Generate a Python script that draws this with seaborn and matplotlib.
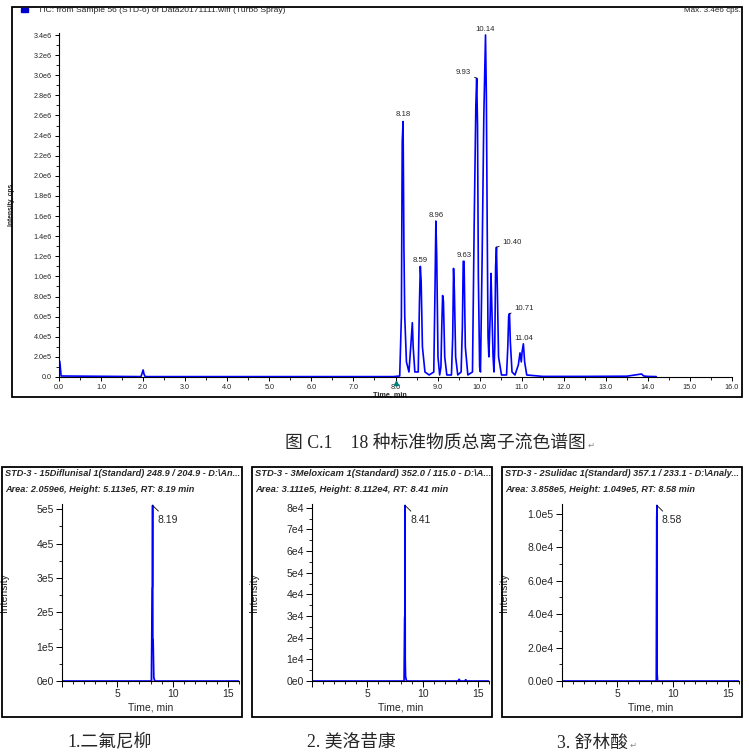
import numpy as np
import pandas as pd
import seaborn as sns
import matplotlib.pyplot as plt
from matplotlib.patches import Rectangle
from matplotlib.ticker import MultipleLocator, FuncFormatter

W, H = 749, 756

# --- TIC trace (time in min, intensity in cps)
tic_time = [0.00, 0.02, 0.05, 1.95, 2.00, 2.02, 2.05, 7.95,
            8.10, 8.14, 8.16, 8.18, 8.20, 8.22, 8.26, 8.32,
            8.37, 8.40, 8.42, 8.46, 8.54, 8.57, 8.59, 8.61, 8.64, 8.70, 8.80,
            8.91, 8.94, 8.96, 8.98, 9.01, 9.05,
            9.08, 9.10, 9.12, 9.14, 9.17, 9.22,
            9.33, 9.36, 9.38, 9.40, 9.43, 9.48,
            9.56, 9.59, 9.61, 9.63, 9.66, 9.72,
            9.83, 9.87, 9.91, 9.93, 9.95, 9.97, 10.00, 10.02,
            10.06, 10.10, 10.14, 10.16, 10.18, 10.20, 10.22,
            10.25, 10.27, 10.29, 10.32, 10.34,
            10.36, 10.38, 10.40, 10.42, 10.45, 10.52,
            10.64, 10.67, 10.69, 10.71, 10.73, 10.77, 10.84,
            10.92, 10.96, 10.99, 11.01, 11.04, 11.07, 11.12,
            11.5, 12.5, 13.0, 13.5, 13.85, 13.9, 14.0, 14.2]
tic_int = [0.17e6, 0.15e6, 0.01e6, 0.004e6, 0.07e6, 0.03e6, 0.004e6, 0.004e6,
           0.01e6, 0.60e6, 2.34e6, 2.54e6, 1.30e6, 0.60e6, 0.15e6, 0.05e6,
           0.35e6, 0.54e6, 0.30e6, 0.05e6, 0.05e6, 0.75e6, 1.10e6, 0.95e6, 0.30e6, 0.05e6, 0.02e6,
           0.05e6, 0.90e6, 1.55e6, 1.20e6, 0.20e6, 0.02e6,
           0.10e6, 0.50e6, 0.81e6, 0.75e6, 0.20e6, 0.02e6,
           0.02e6, 0.40e6, 1.08e6, 0.85e6, 0.20e6, 0.02e6,
           0.05e6, 0.50e6, 1.15e6, 1.15e6, 0.30e6, 0.02e6,
           0.05e6, 1.50e6, 2.70e6, 2.97e6, 2.50e6, 1.00e6, 0.10e6, 0.05e6,
           1.20e6, 2.60e6, 3.40e6, 2.80e6, 1.50e6, 0.40e6, 0.20e6,
           0.60e6, 1.03e6, 0.70e6, 0.20e6, 0.05e6,
           0.30e6, 1.10e6, 1.29e6, 0.90e6, 0.20e6, 0.02e6,
           0.02e6, 0.30e6, 0.60e6, 0.63e6, 0.35e6, 0.05e6, 0.02e6,
           0.12e6, 0.24e6, 0.15e6, 0.25e6, 0.33e6, 0.15e6, 0.02e6,
           0.006e6, 0.006e6, 0.007e6, 0.008e6, 0.03e6, 0.01e6, 0.006e6, 0.004e6]
tic_labels = [8.18, 8.59, 8.96, 9.63, 9.93, 10.14, 10.40, 10.71, 11.04]

# --- extracted ion chromatograms
xic_titles = ['STD-3 - 15Diflunisal 1(Standard) 248.9 / 204.9 - D:\\An...',
              'STD-3 - 3Meloxicam 1(Standard) 352.0 / 115.0 - D:\\A...',
              'STD-3 - 2Sulidac 1(Standard) 357.1 / 233.1 - D:\\Analy...']
xic_info = ['Area: 2.059e6, Height: 5.113e5, RT: 8.19 min',
            'Area: 3.111e5, Height: 8.112e4, RT: 8.41 min',
            'Area: 3.858e5, Height: 1.049e5, RT: 8.58 min']
xic_rt = [8.19, 8.41, 8.58]
xic_height = [5.113e5, 8.112e4, 1.049e5]
xic_names = ['1.二氟尼柳', '2. 美洛昔康', '3. 舒林酸']

xic1_time = [0.0, 8.08, 8.15, 8.17, 8.19, 8.21, 8.24, 8.30, 8.40, 16.0]
xic1_int = [0, 0, 2.7e5, 2.75e5, 5.113e5, 1.25e5, 1.2e5, 1e4, 0, 0]
xic2_time = [0.0, 8.32, 8.37, 8.39, 8.41, 8.43, 8.46, 8.55, 13.2, 13.3, 13.4, 13.8, 13.9, 14.0, 16.0]
xic2_int = [0, 0, 2.9e4, 3.0e4, 8.112e4, 1.0e4, 2e3, 0, 0, 800, 0, 0, 600, 0, 0]
xic3_time = [0.0, 8.52, 8.56, 8.58, 8.60, 8.64, 16.0]
xic3_int = [0, 0, 9.6e4, 1.049e5, 5e3, 0, 0]
xic_traces = [(xic1_time, xic1_int), (xic2_time, xic2_int), (xic3_time, xic3_int)]

sns.set_theme(style='ticks')
small = ['Liberation Sans', 'DejaVu Sans']
cjk = ['Liberation Serif', 'Noto Sans CJK SC', 'DejaVu Sans']
plt.rcParams['font.family'] = small

BLUE = '#0000ff'
fig = plt.figure(figsize=(W / 100, H / 100), dpi=100)
renderer = fig.canvas.get_renderer()


def rect(l, t, r, b):
    return [l / W, 1 - b / H, (r - l) / W, (b - t) / H]


def box(l, t, r, b):
    fig.patches.append(Rectangle((l / W, 1 - b / H), (r - l) / W, (b - t) / H,
                                 transform=fig.transFigure, fill=False,
                                 lw=1.3, ec='black'))


def ftext(x, y, s, **kw):
    return fig.text(x / W, 1 - y / H, s, **kw)


def fit(txt, width):
    # shrink a text until it fits the given pixel width
    w = txt.get_window_extent(renderer).width
    if w > width:
        txt.set_fontsize(txt.get_fontsize() * width / w)
    return txt.get_fontsize()


# ---------------- TIC panel
box(12, 7, 742, 397)
ax = fig.add_axes(rect(59, 33, 732, 377))
df = pd.DataFrame({'t': tic_time, 'i': tic_int})
sns.lineplot(data=df, x='t', y='i', ax=ax, color=BLUE, lw=1.2, estimator=None)
ax.set_xlim(0, 16)
ax.set_ylim(0, 3.42e6)
sns.despine(ax=ax)
for s in ['left', 'bottom']:
    ax.spines[s].set_linewidth(0.8)
    ax.spines[s].set_color('black')
ax.xaxis.set_major_locator(MultipleLocator(1))
ax.xaxis.set_minor_locator(MultipleLocator(0.5))
ax.yaxis.set_major_locator(MultipleLocator(0.2e6))
ax.yaxis.set_minor_locator(MultipleLocator(0.1e6))
ax.xaxis.set_major_formatter(FuncFormatter(lambda v, p: f'{v:.1f}'))


def tic_fmt(v, p):
    if v == 0:
        return '0.0'
    if v < 1e6 - 1:
        return f'{v / 1e5:.1f}e5'
    return f'{v / 1e6:.1f}e6'


ax.yaxis.set_major_formatter(FuncFormatter(tic_fmt))
ax.tick_params(which='major', length=3, width=0.7, labelsize=5.2, pad=2, color='black')
ax.tick_params(which='minor', length=2, width=0.6, color='black')
ax.set_xlabel('Time, min', fontsize=5.2, fontweight='bold')
ax.set_ylabel('Intensity, cps', fontsize=4.8, fontweight='bold')
ax.yaxis.set_label_coords((15 - 59) / 673, 0.5)
ax.xaxis.set_label_coords((390 - 59) / 673, -0.042)
ax.plot([8.0], [-0.06e6], marker='^', ms=3, color='#008080', clip_on=False)

offsets = {8.18: (0, 7, 'center'), 8.59: (0, 6, 'center'), 8.96: (0, 6, 'center'),
           9.63: (0, 6, 'center'), 9.93: (-13, 6, 'center'), 10.14: (0, 6, 'center'),
           10.40: (6, 5, 'left'), 10.71: (5, 5, 'left'), 11.04: (0, 5, 'center')}
for rt in tic_labels:
    h = tic_int[tic_time.index(rt)]
    dx, dy, ha = offsets[rt]
    arrow = None
    if rt in (9.93, 10.40, 10.71):
        arrow = dict(arrowstyle='-', lw=0.6, color='black', shrinkA=0, shrinkB=0)
    ax.annotate(f'{rt:.2f}', xy=(rt, h), xytext=(dx, dy), textcoords='offset pixels',
                ha=ha, va='center', fontsize=5.6, arrowprops=arrow)

fig.patches.append(Rectangle((21 / W, 1 - 12 / H), 7 / W, 4 / H,
                             transform=fig.transFigure, color='#0000cc'))
ftext(38, 11, 'TIC: from Sample 56 (STD-6) of Data20171111.wiff (Turbo Spray)',
      fontsize=6.1, va='center', ha='left')
ftext(741, 11, 'Max. 3.4e6 cps.', fontsize=5.8, va='center', ha='right')

# ---------------- caption
cap = ftext(285, 443, '图 C.1    18 种标准物质总离子流色谱图', fontsize=12.8,
            family=cjk, va='center', ha='left')
ce = cap.get_window_extent(renderer)
ftext(ce.x1 + 2, 446, '↵', fontsize=6, color='#888888', va='center', ha='left')


# ---------------- XIC panels
def xic_fmt(dec):
    def f(v, p):
        if v <= 0:
            return f'{0:.{dec}f}e0'
        e = int(np.floor(np.log10(v) + 1e-9))
        return f'{v / 10 ** e:.{dec}f}e{e}'
    return f


panel_left = [2, 252, 502]
major_steps = [1e5, 1e4, 2e4]
decimals = [0, 0, 1]
cap_x = [67, 307, 557]
for k in range(3):
    L = panel_left[k]
    box(L, 467, L + 240, 717)
    t1 = ftext(L + 3, 474, xic_titles[k], fontsize=7, style='italic',
               fontweight='bold', va='center', ha='left')
    fs = fit(t1, 235)
    ftext(L + 3, 489, xic_info[k], fontsize=fs, style='italic',
          fontweight='bold', va='center', ha='left')
    a = fig.add_axes(rect(L + 60, 504, L + 237, 681))
    t, i = xic_traces[k]
    d = pd.DataFrame({'t': t, 'i': i})
    a.fill_between(d['t'], d['i'], color='#9999ff', alpha=0.6, lw=0)
    sns.lineplot(data=d, x='t', y='i', ax=a, color=BLUE, lw=1.2, estimator=None)
    a.plot([xic_rt[k] - 0.1, xic_rt[k] + 0.1], [0, 0], color='red', lw=1.0)
    a.set_xlim(0, 16)
    a.set_ylim(0, xic_height[k] * 1.008)
    sns.despine(ax=a)
    for s in ['left', 'bottom']:
        a.spines[s].set_linewidth(0.8)
        a.spines[s].set_color('black')
    a.xaxis.set_major_locator(MultipleLocator(5))
    a.xaxis.set_minor_locator(MultipleLocator(1))
    a.yaxis.set_major_locator(MultipleLocator(major_steps[k]))
    a.yaxis.set_minor_locator(MultipleLocator(major_steps[k] / 2))
    a.xaxis.set_major_formatter(FuncFormatter(lambda v, p: '' if v == 0 else f'{v:.0f}'))
    a.yaxis.set_major_formatter(FuncFormatter(xic_fmt(decimals[k])))
    a.tick_params(which='major', length=4, width=0.7, labelsize=7.5, pad=2, color='black')
    a.tick_params(which='minor', length=2.5, width=0.6, color='black')
    a.set_xlabel('Time, min', fontsize=7.5, labelpad=2)
    a.set_ylabel('Intensity', fontsize=7.5)
    a.yaxis.set_label_coords((L + 7 - (L + 60)) / 177, 0.5)
    a.annotate(f'{xic_rt[k]:.2f}', xy=(xic_rt[k], xic_height[k]), xytext=(5, -15),
               textcoords='offset pixels', ha='left', va='center',
               fontsize=7.5, arrowprops=dict(arrowstyle='-', lw=0.6, color='black',
                                             shrinkA=1, shrinkB=0))
    nm = ftext(cap_x[k], 743, xic_names[k], family=cjk, fontsize=12.8,
               va='center', ha='left')
    if k == 2:
        ne = nm.get_window_extent(renderer)
        ftext(ne.x1 + 2, 746, '↵', fontsize=6, color='#888888', va='center', ha='left')

fig.savefig('out.png', dpi=100)
